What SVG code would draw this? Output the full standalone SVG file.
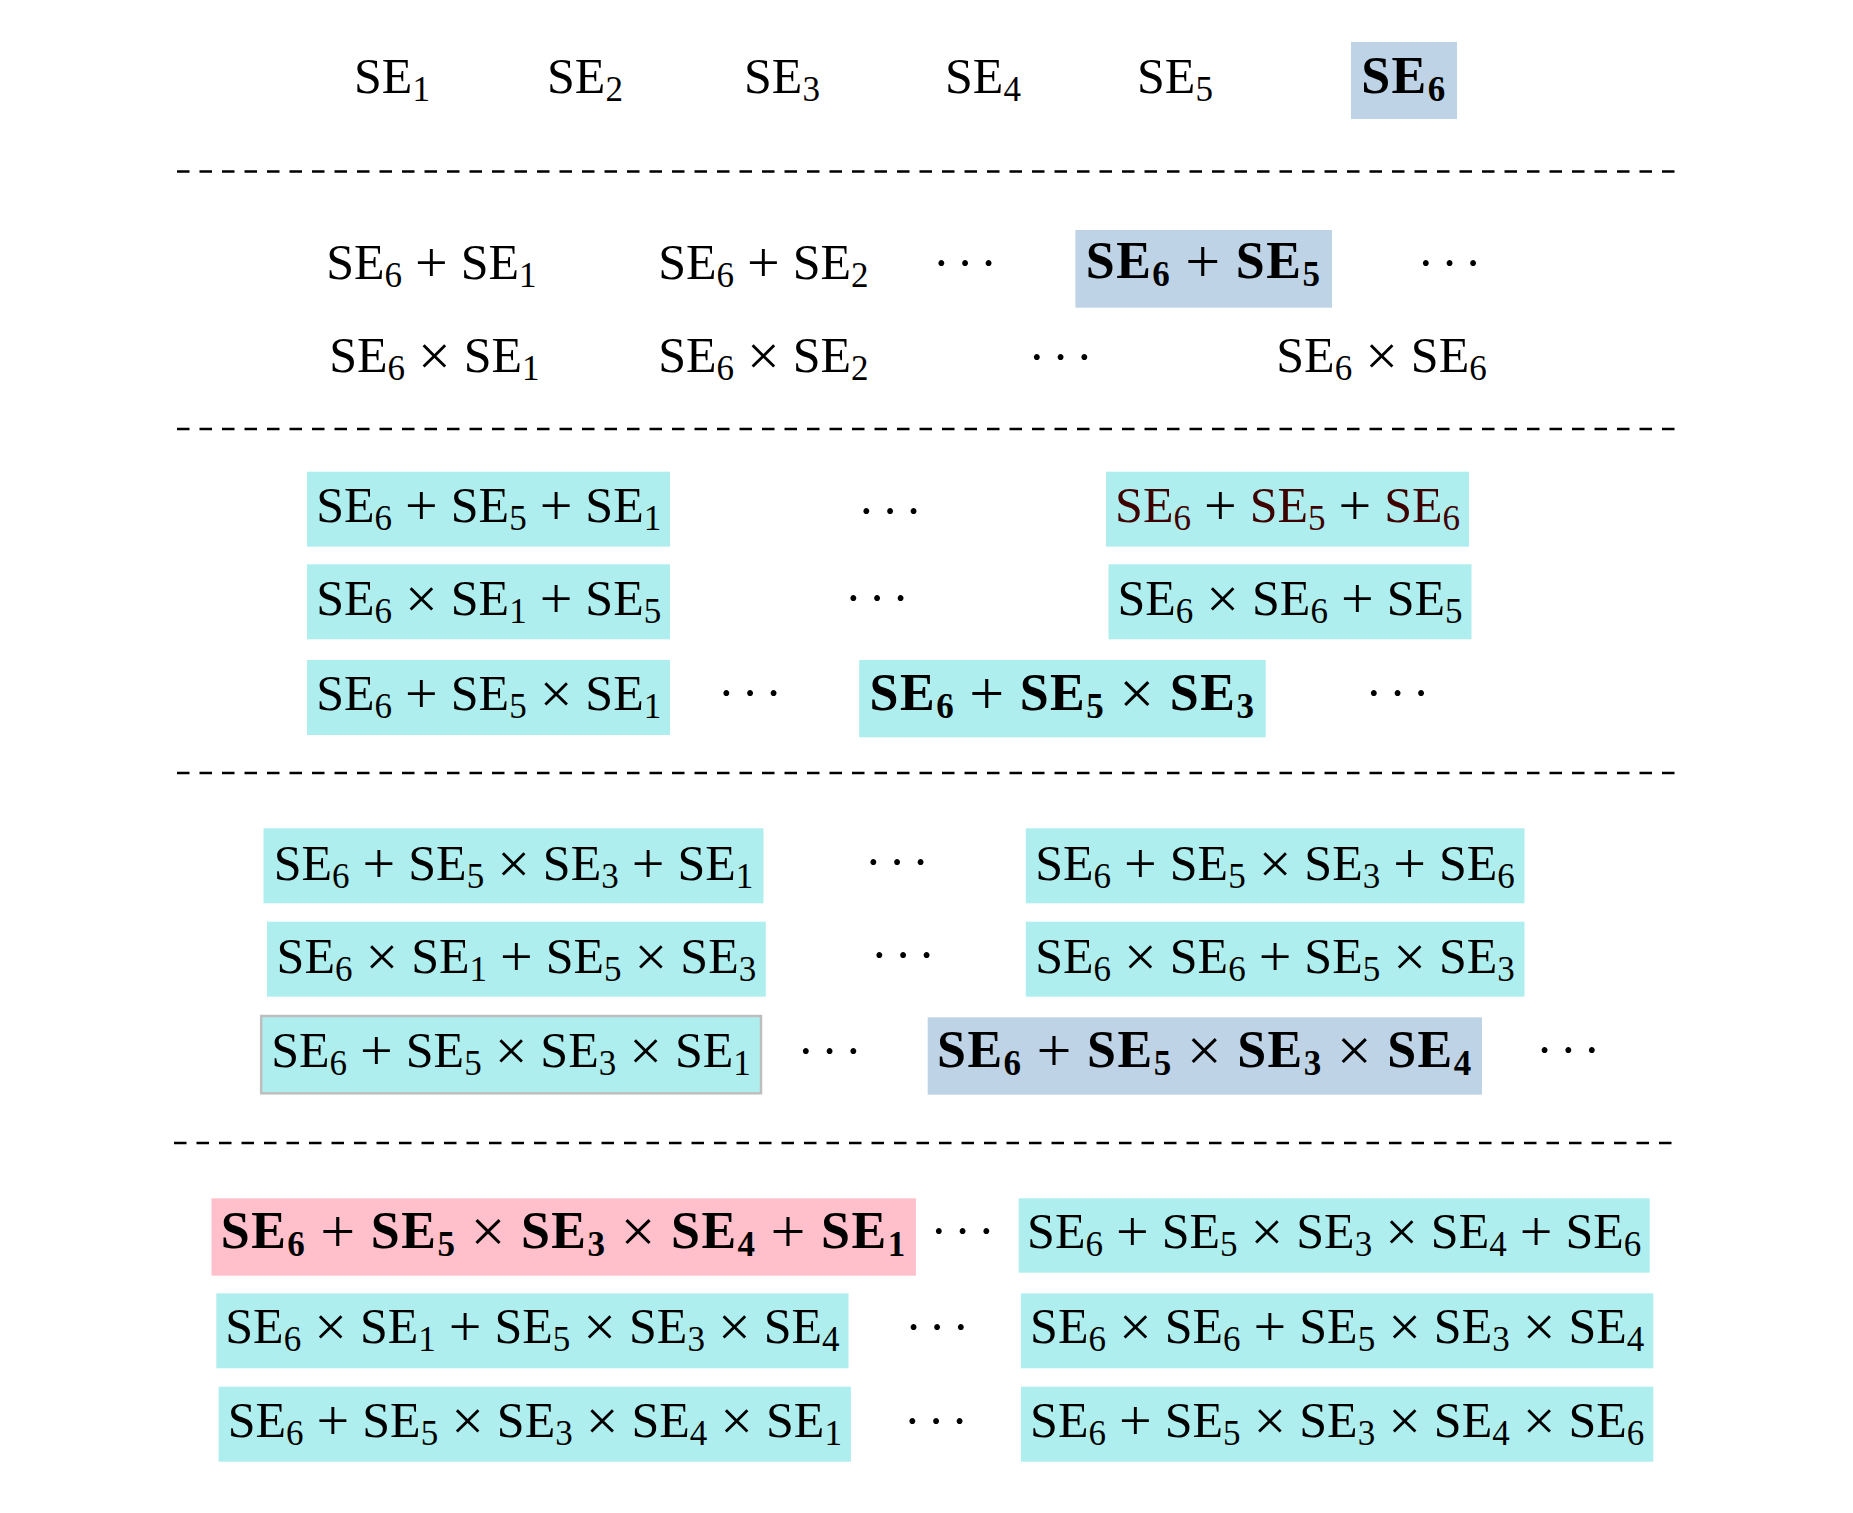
<svg xmlns="http://www.w3.org/2000/svg" width="1853" height="1513" viewBox="0 0 1853 1513">
<style>
text{font-family:"Liberation Serif","Times New Roman",serif;fill:#000}
.t{font-size:50px;word-spacing:0.5px;text-anchor:middle}
.b{font-size:52px;font-weight:bold;letter-spacing:1.5px;word-spacing:-0.5px;text-anchor:middle}
.s{font-size:35px;baseline-shift:-8px}
.o{font-size:58px;baseline-shift:-2.7px}
.b .o{font-size:62px;font-weight:normal;baseline-shift:-3.5px}
.d{font-size:50px;letter-spacing:7px;text-anchor:middle}
.red{fill:#3f0000}
.cyan{fill:#AFEEEE}
.steel{fill:#BED3E6}
.pink{fill:#FFC0CB}
.gray{stroke:#BEBEBE;stroke-width:2.5}
.sep{stroke:#000;stroke-width:2.6;stroke-dasharray:12.5 10;fill:none}
</style>
<rect width="1853" height="1513" fill="#fff"/>
<g id="separators">
<line class="sep" x1="177" y1="171.5" x2="1678" y2="171.5"/>
<line class="sep" x1="177" y1="429" x2="1676" y2="429"/>
<line class="sep" x1="177" y1="773" x2="1676" y2="773"/>
<line class="sep" x1="174" y1="1143" x2="1675" y2="1143"/>
</g>
<!-- Row 0 -->
<g id="r0-se1"><text class="t" x="392" y="93">SE<tspan class="s">1</tspan></text></g>
<g id="r0-se2"><text class="t" x="585" y="93">SE<tspan class="s">2</tspan></text></g>
<g id="r0-se3"><text class="t" x="782" y="93">SE<tspan class="s">3</tspan></text></g>
<g id="r0-se4"><text class="t" x="983" y="93">SE<tspan class="s">4</tspan></text></g>
<g id="r0-se5"><text class="t" x="1175" y="93">SE<tspan class="s">5</tspan></text></g>
<g id="r0-se6"><rect class="steel" x="1351" y="42" width="106" height="77"/><text class="b" x="1404" y="93">SE<tspan class="s">6</tspan></text></g>
<!-- Row 1 -->
<g id="r1a-1"><text class="t" x="431.4" y="279">SE<tspan class="s">6</tspan> <tspan class="o">+</tspan> SE<tspan class="s">1</tspan></text></g>
<g id="r1a-2"><text class="t" x="763.4" y="279">SE<tspan class="s">6</tspan> <tspan class="o">+</tspan> SE<tspan class="s">2</tspan></text></g>
<g id="r1a-dots1"><text class="d" x="968.5" y="279.7">···</text></g>
<g id="r1a-best"><rect class="steel" x="1075.4" y="230" width="256.6" height="77.7"/><text class="b" x="1203.6" y="278">SE<tspan class="s">6</tspan> <tspan class="o">+</tspan> SE<tspan class="s">5</tspan></text></g>
<g id="r1a-dots2"><text class="d" x="1453" y="279.7">···</text></g>
<g id="r1b-1"><text class="t" x="434.4" y="372">SE<tspan class="s">6</tspan> <tspan class="o">×</tspan> SE<tspan class="s">1</tspan></text></g>
<g id="r1b-2"><text class="t" x="763.4" y="372">SE<tspan class="s">6</tspan> <tspan class="o">×</tspan> SE<tspan class="s">2</tspan></text></g>
<g id="r1b-dots"><text class="d" x="1064.1" y="373.7">···</text></g>
<g id="r1b-6"><text class="t" x="1381.5" y="372">SE<tspan class="s">6</tspan> <tspan class="o">×</tspan> SE<tspan class="s">6</tspan></text></g>
<!-- Row 2 -->
<g id="r2a-1"><rect class="cyan" x="307" y="471.7" width="363" height="75"/><text class="t" x="488.7" y="521.7">SE<tspan class="s">6</tspan> <tspan class="o">+</tspan> SE<tspan class="s">5</tspan> <tspan class="o">+</tspan> SE<tspan class="s">1</tspan></text></g>
<g id="r2a-dots"><text class="d" x="893.5" y="528.4">···</text></g>
<g id="r2a-6"><rect class="cyan" x="1106" y="471.7" width="363" height="75"/><text class="t" x="1287.6" y="521.7"><tspan class="red">SE</tspan><tspan class="s red">6</tspan> <tspan class="o">+</tspan> <tspan class="red">SE</tspan><tspan class="s red">5</tspan> <tspan class="o">+</tspan> <tspan class="red">SE</tspan><tspan class="s red">6</tspan></text></g>
<g id="r2b-1"><rect class="cyan" x="307" y="564.3" width="363" height="75"/><text class="t" x="488.7" y="615">SE<tspan class="s">6</tspan> <tspan class="o">×</tspan> SE<tspan class="s">1</tspan> <tspan class="o">+</tspan> SE<tspan class="s">5</tspan></text></g>
<g id="r2b-dots"><text class="d" x="880.5" y="615.4">···</text></g>
<g id="r2b-6"><rect class="cyan" x="1108.5" y="564.3" width="363" height="75"/><text class="t" x="1290" y="615">SE<tspan class="s">6</tspan> <tspan class="o">×</tspan> SE<tspan class="s">6</tspan> <tspan class="o">+</tspan> SE<tspan class="s">5</tspan></text></g>
<g id="r2c-1"><rect class="cyan" x="307" y="660" width="363" height="75"/><text class="t" x="488.7" y="710">SE<tspan class="s">6</tspan> <tspan class="o">+</tspan> SE<tspan class="s">5</tspan> <tspan class="o">×</tspan> SE<tspan class="s">1</tspan></text></g>
<g id="r2c-dots1"><text class="d" x="753.5" y="710">···</text></g>
<g id="r2c-best"><rect class="cyan" x="859.2" y="660" width="406.5" height="77.3"/><text class="b" x="1062.5" y="710">SE<tspan class="s">6</tspan> <tspan class="o">+</tspan> SE<tspan class="s">5</tspan> <tspan class="o">×</tspan> SE<tspan class="s">3</tspan></text></g>
<g id="r2c-dots2"><text class="d" x="1401" y="710">···</text></g>
<!-- Row 3 -->
<g id="r3a-1"><rect class="cyan" x="263.5" y="828.3" width="500" height="75"/><text class="t" x="513.5" y="880">SE<tspan class="s">6</tspan> <tspan class="o">+</tspan> SE<tspan class="s">5</tspan> <tspan class="o">×</tspan> SE<tspan class="s">3</tspan> <tspan class="o">+</tspan> SE<tspan class="s">1</tspan></text></g>
<g id="r3a-dots"><text class="d" x="900.5" y="878.7">···</text></g>
<g id="r3a-6"><rect class="cyan" x="1025.8" y="828.3" width="498.7" height="75"/><text class="t" x="1275" y="880">SE<tspan class="s">6</tspan> <tspan class="o">+</tspan> SE<tspan class="s">5</tspan> <tspan class="o">×</tspan> SE<tspan class="s">3</tspan> <tspan class="o">+</tspan> SE<tspan class="s">6</tspan></text></g>
<g id="r3b-1"><rect class="cyan" x="267" y="921.7" width="498.8" height="75"/><text class="t" x="516.4" y="973.3">SE<tspan class="s">6</tspan> <tspan class="o">×</tspan> SE<tspan class="s">1</tspan> <tspan class="o">+</tspan> SE<tspan class="s">5</tspan> <tspan class="o">×</tspan> SE<tspan class="s">3</tspan></text></g>
<g id="r3b-dots"><text class="d" x="906.5" y="972">···</text></g>
<g id="r3b-6"><rect class="cyan" x="1025.8" y="921.7" width="498.7" height="75"/><text class="t" x="1275" y="973.3">SE<tspan class="s">6</tspan> <tspan class="o">×</tspan> SE<tspan class="s">6</tspan> <tspan class="o">+</tspan> SE<tspan class="s">5</tspan> <tspan class="o">×</tspan> SE<tspan class="s">3</tspan></text></g>
<g id="r3c-1"><rect class="cyan gray" x="261.2" y="1016" width="499.8" height="77.3"/><text class="t" x="511" y="1066.7">SE<tspan class="s">6</tspan> <tspan class="o">+</tspan> SE<tspan class="s">5</tspan> <tspan class="o">×</tspan> SE<tspan class="s">3</tspan> <tspan class="o">×</tspan> SE<tspan class="s">1</tspan></text></g>
<g id="r3c-dots1"><text class="d" x="833.1" y="1067.7">···</text></g>
<g id="r3c-best"><rect class="steel" x="927.7" y="1017.3" width="554.3" height="77.4"/><text class="b" x="1204.9" y="1066.7">SE<tspan class="s">6</tspan> <tspan class="o">+</tspan> SE<tspan class="s">5</tspan> <tspan class="o">×</tspan> SE<tspan class="s">3</tspan> <tspan class="o">×</tspan> SE<tspan class="s">4</tspan></text></g>
<g id="r3c-dots2"><text class="d" x="1571.8" y="1066.7">···</text></g>
<!-- Row 4 -->
<g id="r4a-best"><rect class="pink" x="211.5" y="1198.3" width="704.4" height="77.4"/><text class="b" x="563.7" y="1248.3">SE<tspan class="s">6</tspan> <tspan class="o">+</tspan> SE<tspan class="s">5</tspan> <tspan class="o">×</tspan> SE<tspan class="s">3</tspan> <tspan class="o">×</tspan> SE<tspan class="s">4</tspan> <tspan class="o">+</tspan> SE<tspan class="s">1</tspan></text></g>
<g id="r4a-dots"><text class="d" x="966.1" y="1247.7">···</text></g>
<g id="r4a-6"><rect class="cyan" x="1018.7" y="1198.3" width="631" height="74.4"/><text class="t" x="1334.2" y="1248.3">SE<tspan class="s">6</tspan> <tspan class="o">+</tspan> SE<tspan class="s">5</tspan> <tspan class="o">×</tspan> SE<tspan class="s">3</tspan> <tspan class="o">×</tspan> SE<tspan class="s">4</tspan> <tspan class="o">+</tspan> SE<tspan class="s">6</tspan></text></g>
<g id="r4b-1"><rect class="cyan" x="216.3" y="1293.3" width="632.2" height="75"/><text class="t" x="532.4" y="1343.3">SE<tspan class="s">6</tspan> <tspan class="o">×</tspan> SE<tspan class="s">1</tspan> <tspan class="o">+</tspan> SE<tspan class="s">5</tspan> <tspan class="o">×</tspan> SE<tspan class="s">3</tspan> <tspan class="o">×</tspan> SE<tspan class="s">4</tspan></text></g>
<g id="r4b-dots"><text class="d" x="940.7" y="1344.4">···</text></g>
<g id="r4b-6"><rect class="cyan" x="1021" y="1293.3" width="632.3" height="75"/><text class="t" x="1337.2" y="1343.3">SE<tspan class="s">6</tspan> <tspan class="o">×</tspan> SE<tspan class="s">6</tspan> <tspan class="o">+</tspan> SE<tspan class="s">5</tspan> <tspan class="o">×</tspan> SE<tspan class="s">3</tspan> <tspan class="o">×</tspan> SE<tspan class="s">4</tspan></text></g>
<g id="r4c-1"><rect class="cyan" x="218.6" y="1386.7" width="632.3" height="75"/><text class="t" x="534.8" y="1436.7">SE<tspan class="s">6</tspan> <tspan class="o">+</tspan> SE<tspan class="s">5</tspan> <tspan class="o">×</tspan> SE<tspan class="s">3</tspan> <tspan class="o">×</tspan> SE<tspan class="s">4</tspan> <tspan class="o">×</tspan> SE<tspan class="s">1</tspan></text></g>
<g id="r4c-dots"><text class="d" x="939.5" y="1437.7">···</text></g>
<g id="r4c-6"><rect class="cyan" x="1021" y="1386.7" width="632.3" height="75"/><text class="t" x="1337.2" y="1436.7">SE<tspan class="s">6</tspan> <tspan class="o">+</tspan> SE<tspan class="s">5</tspan> <tspan class="o">×</tspan> SE<tspan class="s">3</tspan> <tspan class="o">×</tspan> SE<tspan class="s">4</tspan> <tspan class="o">×</tspan> SE<tspan class="s">6</tspan></text></g>
</svg>
